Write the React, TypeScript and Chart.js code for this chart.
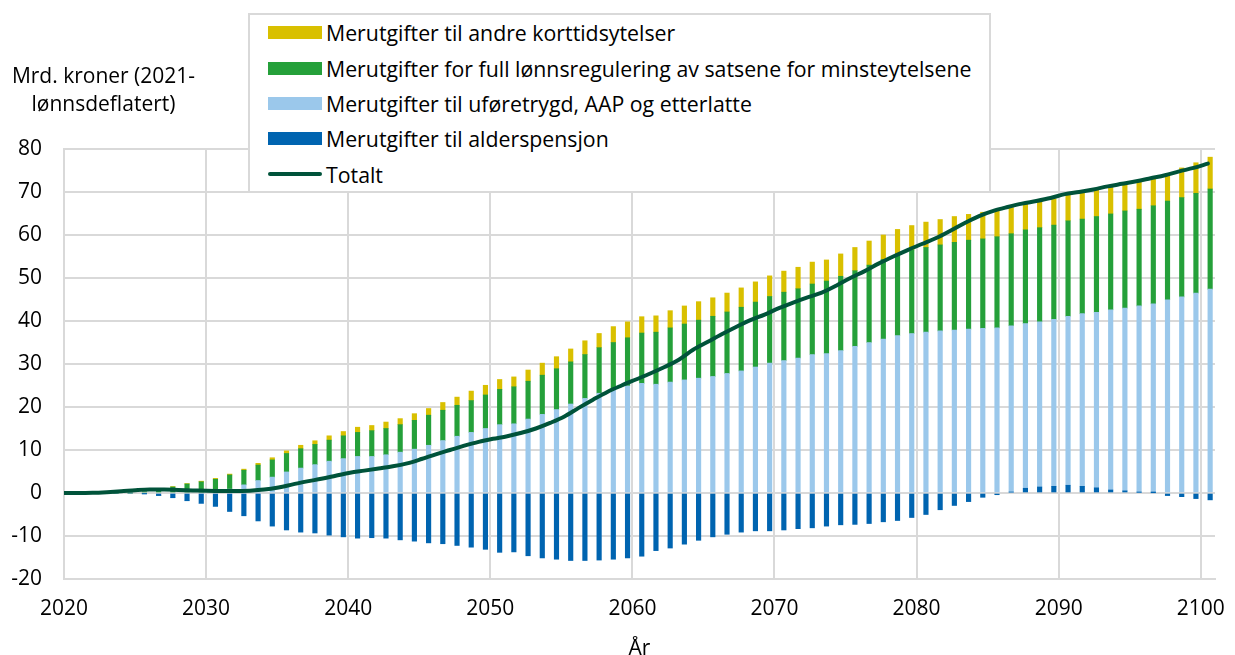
import { useEffect, useRef } from "react";
import { Chart, registerables } from "chart.js";

Chart.register(...registerables);

// Categories: one per year
const years: number[] = [];
for (let y = 2020; y <= 2100; y++) years.push(y);

const xTickStep = 10;
const yMin = -20;
const yMax = 80;
const yStep = 10;

const yAxisTitle = ["Mrd. kroner (2021-", "lønnsdeflatert)"];
const xAxisTitle = "År";

// Series values (mrd. kroner), 2020..2100
const alderspensjon = [
  0, 0, 0, 0, 0,
  -0.1, -0.6, -1.1, -1.8, -2.4,
  -3.1, -4.3, -5.3, -6.5, -7.7,
  -8.6, -9.1, -9.3, -9.8, -10.2,
  -10.5, -10.4, -10.5, -10.9, -11.2,
  -11.6, -11.8, -12.2, -12.6, -13.1,
  -13.8, -13.7, -14.6, -15.1, -15.4,
  -15.7, -15.7, -15.6, -15.4, -15.1,
  -14.7, -13.4, -12.8, -11.9, -11.0,
  -10.2, -9.6, -9.1, -8.8, -8.8,
  -8.6, -8.3, -8.1, -7.7, -7.4,
  -7.3, -7.1, -6.7, -6.4, -5.7,
  -5.0, -3.9, -2.9, -2.0, -1.0,
  -0.4, 0.2, 1.1, 1.4, 1.55,
  1.8, 1.55, 1.2, 0.7, 0.5,
  0.15, 0.05, -0.6, -0.85, -1.3,
  -1.6,
];

const uforetrygd = [
  0, 0, 0, 0, 0,
  0, 0, 0, 0, 0,
  0, 0.9, 1.9, 2.9, 3.7,
  4.9, 5.8, 6.6, 7.4, 8.0,
  8.5, 8.5, 8.9, 9.5, 10.2,
  11.1, 12.2, 13.2, 14.1, 15.0,
  15.9, 16.1, 17.2, 18.3, 19.4,
  20.7, 22.0, 23.2, 24.2, 24.9,
  25.5, 25.3, 25.8, 26.3, 26.7,
  27.1, 27.8, 28.4, 29.3, 30.2,
  30.8, 31.4, 32.2, 32.4, 33.1,
  34.1, 35.0, 35.8, 36.6, 37.1,
  37.4, 37.7, 37.9, 38.1, 38.3,
  38.4, 38.7, 38.3, 38.4, 38.85,
  39.3, 40.15, 40.8, 41.9, 42.5,
  43.35, 43.95, 44.9, 45.6, 46.5,
  47.4,
];

const lonnsregulering = [
  0, 0, 0, 0, 0,
  0.3, 0.4, 1.4, 2.1, 2.6,
  3.2, 3.3, 3.4, 3.6, 4.0,
  4.3, 4.5, 4.7, 4.9, 5.3,
  5.6, 6.0, 6.1, 6.4, 6.7,
  7.0, 7.05, 7.2, 7.4, 7.8,
  8.2, 8.6, 8.8, 9.1, 9.5,
  9.8, 10.2, 10.6, 10.8, 11.2,
  11.7, 12.1, 12.6, 13.0, 13.5,
  14.0, 14.3, 14.8, 15.1, 15.5,
  15.9, 16.1, 16.4, 16.9, 17.3,
  17.6, 18.0, 18.5, 19.0, 19.4,
  19.7, 20.0, 20.4, 20.7, 20.8,
  21.2, 21.4, 21.8, 21.9, 21.9,
  22.2, 22.0, 22.3, 22.3, 22.6,
  22.5, 22.8, 23.0, 23.1, 23.2,
  23.3,
];

const korttidsytelser = [
  0, 0, 0, 0, 0,
  0, 0, 0.1, 0.1, 0.15,
  0.2, 0.2, 0.25, 0.4, 0.5,
  0.6, 0.8, 0.85, 1.0, 1.0,
  1.2, 1.2, 1.5, 1.4, 1.55,
  1.55, 1.8, 1.9, 2.2, 2.25,
  2.3, 2.3, 2.6, 2.8, 2.8,
  3.0, 3.2, 3.3, 3.7, 3.7,
  3.8, 3.8, 4.0, 4.2, 4.3,
  4.3, 4.4, 4.5, 4.7, 4.8,
  4.9, 5.0, 5.1, 4.9, 5.2,
  5.4, 5.6, 5.7, 5.7, 5.7,
  5.9, 5.9, 6.0, 6.0, 6.2,
  6.3, 6.1, 6.0, 6.1, 6.1,
  6.2, 6.3, 6.3, 6.4, 6.3,
  6.3, 6.4, 6.2, 6.9, 7.1,
  7.4,
];

const totalt = [
  0, 0, 0.05, 0.2, 0.4,
  0.65, 0.8, 0.8, 0.7, 0.6,
  0.5, 0.45, 0.45, 0.55, 0.8,
  1.3, 2.0, 2.7, 3.3, 4.0,
  4.7, 5.2, 5.7, 6.2, 6.9,
  7.9, 9.0, 10.0, 11.0, 11.9,
  12.6, 13.2, 14.0, 15.0, 16.3,
  17.8, 19.8, 21.7, 23.5, 25.0,
  26.4, 27.8, 29.3, 31.0, 33.3,
  35.1, 36.9, 38.6, 40.2, 41.5,
  43.0, 44.3, 45.5, 46.6, 48.2,
  50.0, 51.6, 53.4, 55.0, 56.5,
  57.9, 59.3, 61.0, 62.8, 64.4,
  65.6, 66.5, 67.3, 67.9, 68.6,
  69.5, 70.0, 70.6, 71.3, 71.9,
  72.5, 73.2, 73.9, 74.8, 75.6,
  76.6,
];

// Series in stacking order (bottom first)
const barSeries = [
  { label: "Merutgifter til alderspensjon", data: alderspensjon, color: "#0064b0" },
  { label: "Merutgifter til uføretrygd, AAP og etterlatte", data: uforetrygd, color: "#9bc8eb" },
  { label: "Merutgifter for full lønnsregulering av satsene for minsteytelsene", data: lonnsregulering, color: "#25a03a" },
  { label: "Merutgifter til andre korttidsytelser", data: korttidsytelser, color: "#d9c000" },
];
const lineSeries = { label: "Totalt", data: totalt, color: "#00533a" };

const FONT = "'Open Sans', 'Noto Sans', sans-serif";
const FS = 21;
const GRID = "#d9d9d9";

export default function App() {
  const ref = useRef<HTMLCanvasElement>(null);

  useEffect(() => {
    if (!ref.current) return;
    const chart = new Chart(ref.current, {
      type: "bar",
      data: {
        labels: years.map(String),
        datasets: [
          {
            type: "line",
            label: lineSeries.label,
            data: years.map((yr, i) => ({ x: yr, y: lineSeries.data[i] })),
            borderColor: lineSeries.color,
            backgroundColor: lineSeries.color,
            borderWidth: 4,
            pointRadius: 0,
            cubicInterpolationMode: "monotone",
            borderCapStyle: "round",
            borderJoinStyle: "round",
            xAxisID: "xl",
            stack: "total",
            order: 0,
          } as any,
          ...barSeries.map((s) => ({
            type: "bar" as const,
            label: s.label,
            data: s.data,
            backgroundColor: s.color,
            borderWidth: 0,
            barThickness: 4.5,
            xAxisID: "x",
            stack: "bars",
            order: 1,
          })),
        ],
      },
      options: {
        animation: false,
        responsive: false,
        layout: { padding: { top: 149, right: 20, bottom: 0, left: 0 } },
        plugins: {
          legend: { display: false },
          tooltip: { enabled: false },
          title: { display: false },
        },
        scales: {
          x: {
            type: "category",
            display: false,
            offset: true,
            stacked: true,
            grid: { display: false },
          },
          xl: {
            type: "linear",
            display: false,
            offset: false,
            min: years[0],
            max: years[years.length - 1] + 0.5,
            grid: { display: false, offset: false },
          },
          xt: {
            type: "linear",
            position: "bottom",
            offset: false,
            min: years[0],
            max: years[years.length - 1] + 1,
            afterFit: (axis: any) => {
              axis.height = 76;
              axis.paddingLeft = 0;
              axis.paddingRight = 0;
            },
            ticks: {
              stepSize: xTickStep,
              includeBounds: false,
              autoSkip: false,
              maxRotation: 0,
              padding: 17,
              color: "#000",
              font: { family: FONT, size: FS },
              callback: (v: any) => String(v),
            },
            grid: { color: GRID, lineWidth: 2, drawTicks: false, offset: false },
            border: { display: true, color: GRID, width: 2 },
            title: {
              display: true,
              text: xAxisTitle,
              color: "#000",
              font: { family: FONT, size: FS, lineHeight: 0.6 },
              padding: 0,
            },
          },
          y: {
            type: "linear",
            stacked: true,
            min: yMin,
            max: yMax,
            afterFit: (axis: any) => {
              axis.width = 64;
              axis.paddingTop = 0;
              axis.paddingBottom = 0;
            },
            ticks: {
              stepSize: yStep,
              padding: 22,
              color: "#000",
              font: { family: FONT, size: FS },
            },
            grid: { color: GRID, lineWidth: 2, drawTicks: false },
            border: { display: true, color: GRID, width: 2 },
          },
        },
      } as any,
    });
    return () => chart.destroy();
  }, []);

  const legendItems = [
    ...barSeries.slice().reverse().map((s) => ({ label: s.label, color: s.color, line: false })),
    { label: lineSeries.label, color: lineSeries.color, line: true },
  ];

  return (
    <div
      style={{
        position: "fixed",
        left: 0,
        top: 0,
        width: 1235,
        height: 655,
        background: "#fff",
        fontFamily: FONT,
        overflow: "hidden",
      }}
    >
      <canvas ref={ref} width={1235} height={655} style={{ position: "absolute", left: 0, top: 0 }} />
      <div
        style={{
          position: "absolute",
          left: 0,
          top: 61,
          width: 207,
          textAlign: "center",
          fontSize: FS,
          lineHeight: "28px",
          color: "#000",
        }}
      >
        {yAxisTitle.map((t, i) => (
          <div key={i}>{t}</div>
        ))}
      </div>
      <div
        style={{
          position: "absolute",
          left: 248,
          top: 13,
          width: 743,
          height: 180,
          boxSizing: "border-box",
          border: `2px solid ${GRID}`,
          background: "#fff",
        }}
      >
        {legendItems.map((it, i) => (
          <div
            key={i}
            style={{
              display: "flex",
              alignItems: "center",
              height: 35.4,
              paddingLeft: 18,
              fontSize: 21.3,
              color: "#000",
              whiteSpace: "nowrap",
            }}
          >
            <span
              style={{
                display: "inline-block",
                width: 54,
                height: it.line ? 4 : 13,
                borderRadius: it.line ? 2 : 0,
                background: it.color,
                marginRight: 4,
              }}
            />
            <span>{it.label}</span>
          </div>
        ))}
      </div>
    </div>
  );
}
